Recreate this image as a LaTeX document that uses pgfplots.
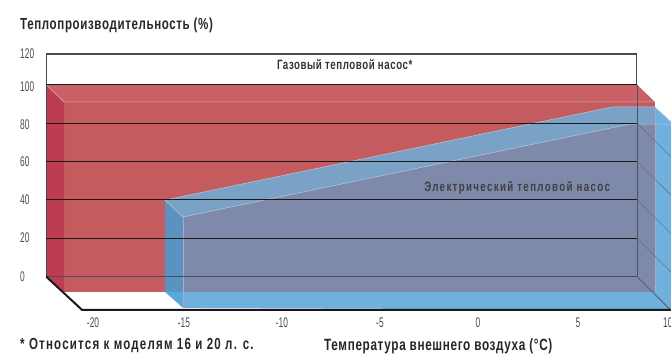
\documentclass[border=0pt]{standalone}
\usepackage{pgfplots}
\pgfplotsset{compat=1.18}
\usepackage{fontspec}
\setmainfont{Liberation Sans}
\newfontfamily\cond[FakeStretch=0.6]{Liberation Sans}
\newfontfamily\condb[FakeStretch=0.72,LetterSpace=4]{Liberation Sans Bold}
\newfontfamily\condc[FakeStretch=0.72,LetterSpace=10]{Liberation Sans Bold}
\newfontfamily\condd[FakeStretch=0.72,LetterSpace=7.5]{Liberation Sans Bold}
\definecolor{redfront}{HTML}{C45B5E}
\definecolor{redtop}{HTML}{CA6166}
\definecolor{redside}{HTML}{BD3D50}
\definecolor{bluetop}{HTML}{7AA1C6}
\definecolor{bluefront}{HTML}{7F8AAA}
\definecolor{blueside}{HTML}{5B92BF}
\definecolor{bluefloor}{HTML}{70B0DD}
\definecolor{bluecorner}{HTML}{58A8DA}
\begin{document}
\begin{tikzpicture}[x=1pt,y=1pt]
\clip (0,0) rectangle (671,355);
\useasboundingbox (0,0) rectangle (671,355);
\begin{axis}[
  at={(46pt,44pt)},anchor=south west,
  width=625pt,height=257pt,scale only axis,
  xmin=-22.04,xmax=9.85,ymin=-18,ymax=115.9,
  axis line style={draw=none},
  major tick length=0pt,
  xtick={-19.64,-15,-10,-5,0,5.1,9.69},
  xticklabels={-20,-15,-10,-5,0,5,10},
  ytick={0,20,40,60,79,99,115.9},
  yticklabels={0,20,40,60,80,100,120},
  /pgf/number format/assume math mode=true,
  xticklabel style={font=\cond\fontsize{14}{15}\selectfont,color=black!70,yshift=-3pt},
  yticklabel style={font=\cond\fontsize{14}{15}\selectfont,color=black!70,anchor=west,inner sep=0pt,xshift=-26pt},
  clip=true,
]
% red block
\addplot[fill=redfront,draw=none] coordinates {(-21.12,90.9)(9.03,90.9)(9.03,-8.07)(-21.12,-8.07)} --cycle;
\addplot[fill=redtop,draw=none] coordinates {(-22.04,100)(8.11,100)(9.03,90.9)(-21.12,90.9)} --cycle;
\addplot[fill=redside,draw=none] coordinates {(-22.04,100)(-21.12,90.9)(-21.12,-8.07)(-22.04,0)} --cycle;
\addplot[color=white!50!redtop,line width=0.5pt] coordinates {(-22.04,100)(-21.12,90.9)(9.03,90.9)};
% blue block
\addplot[fill=bluefloor,draw=none] coordinates {(9.03,88.3)(9.85,80.5)(9.85,-17.45)(-15.05,-16.4)(-15.05,-8.07)(9.03,-8.07)} --cycle;
\addplot[fill=bluefront,draw=none] coordinates {(-15.05,31)(7.76,79.4)(9.03,79.4)(9.03,-8.07)(-15.05,-8.07)} --cycle;
\addplot[fill=bluetop,draw=none] coordinates {(-15.97,39.8)(6.84,88.3)(9.03,88.3)(9.03,79.4)(7.76,79.4)(-15.05,31)} --cycle;
\addplot[fill=blueside,draw=none] coordinates {(-15.97,39.8)(-15.05,31)(-15.05,-8.07)(-15.97,-8.07)} --cycle;
\addplot[fill=bluecorner,draw=none] coordinates {(-15.97,-8.07)(-15.05,-8.07)(-15.05,-16.4)} --cycle;
\addplot[color=white!45!bluetop,line width=0.5pt] coordinates {(-15.97,39.8)(-15.05,31)(7.76,79.4)(9.03,79.4)(9.85,79.4)};
\addplot[color=white!45!bluetop,line width=0.5pt] coordinates {(-15.97,39.8)(6.84,88.3)(9.03,88.3)(9.85,80.5)};
\addplot[color=white!30!bluefront,line width=0.4pt] coordinates {(-15.05,31)(-15.05,-16.4)};
\addplot[color=white!30!bluefront,line width=0.4pt] coordinates {(9.03,88.3)(9.03,-8.07)};
% box
\addplot[color=black!70,line width=1.1pt] coordinates {(-22.04,0)(-22.04,115.9)(8.11,115.9)(8.11,100)};
\addplot[color=black!40!bluefront,line width=0.5pt] coordinates {(8.11,100)(8.11,0)};
% grid
\addplot[color=black!90,line width=0.8pt] coordinates {(-22.04,100)(8.11,100)};
\addplot[color=black!90,line width=0.8pt] coordinates {(-22.04,80)(8.11,80)};
\addplot[color=black!90,line width=0.8pt] coordinates {(-22.04,60)(8.11,60)};
\addplot[color=black!90,line width=0.8pt] coordinates {(-22.04,40)(8.11,40)};
\addplot[color=black!90,line width=0.8pt] coordinates {(-22.04,20)(8.11,20)};
\addplot[color=black!45!bluefront,line width=0.8pt] coordinates {(-22.04,0)(8.11,0)};
% right diagonals
\addplot[color=black!25!bluefront,line width=0.4pt] coordinates {(8.11,80)(9.85,62.3)};
\addplot[color=black!25!bluefront,line width=0.4pt] coordinates {(8.11,60)(9.85,42.3)};
\addplot[color=black!25!bluefront,line width=0.4pt] coordinates {(8.11,40)(9.85,22.3)};
\addplot[color=black!25!bluefront,line width=0.4pt] coordinates {(8.11,20)(9.85,2.3)};
\addplot[color=black!30!bluefront,line width=1pt] coordinates {(8.11,0)(9.85,-17.7)};
% floor
\addplot[color=black!90,line width=2pt] coordinates {(-22.04,0)(-20.2,-17.45)(9.85,-17.45)};
\node[font=\condb\fontsize{13.5}{14}\selectfont,color=black!80] at (axis cs:-6.8,110.4) {Газовый тепловой насос*};
\node[font=\condc\fontsize{13.5}{14}\selectfont,color=black!75] at (axis cs:2,46) {Электрический тепловой насос};
\end{axis}
\node[anchor=west,inner sep=0pt,font=\condb\fontsize{16}{17}\selectfont,color=black!85] at (20,330) {Теплопроизводительность (\%)};
\node[anchor=west,inner sep=0pt,font=\condd\fontsize{16}{17}\selectfont,color=black!85] at (20,9) {* Относится к моделям 16 и 20 л. с.};
\node[anchor=west,inner sep=0pt,font=\condb\fontsize{16.3}{17}\selectfont,color=black!85] at (324,9) {Температура внешнего воздуха (°C)};
\end{tikzpicture}
\end{document}
